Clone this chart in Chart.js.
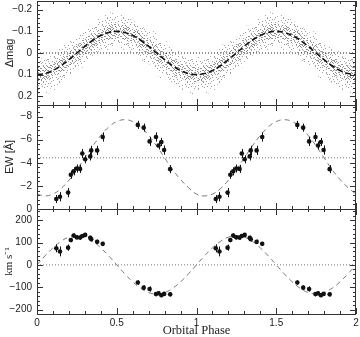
<!DOCTYPE html>
<html lang="en">
<head>
<meta charset="UTF-8">
<title>Orbital Phase</title>
<script src="https://cdn.jsdelivr.net/npm/chart.js"></script>
<style>
  html, body { margin: 0; padding: 0; background: #fff; }
  #wrap { position: relative; width: 360px; height: 337px; }
  #wrap canvas { position: absolute; left: 0; top: 0; }
</style>
</head>
<body>
<div id="wrap">
  <canvas id="c1" width="360" height="337"></canvas>
  <canvas id="c2" width="360" height="337"></canvas>
  <canvas id="c3" width="360" height="337"></canvas>
</div>
<script>
// x axis
const phaseTicks = [0, 0.5, 1, 1.5, 2];
const phaseTickLabels = ['0', '0.5', '1', '1.5', '2'];

// light curve: model read at 0.05 steps over one cycle
const modelPhase = [0, 0.05, 0.1, 0.15, 0.2, 0.25, 0.3, 0.35, 0.4, 0.45, 0.5,
                    0.55, 0.6, 0.65, 0.7, 0.75, 0.8, 0.85, 0.9, 0.95, 1.0];
const magModel = [0.100, 0.095, 0.081, 0.059, 0.031, 0.000, -0.031, -0.059, -0.081, -0.095, -0.100,
                  -0.095, -0.081, -0.059, -0.031, 0.000, 0.031, 0.059, 0.081, 0.095, 0.100];
// photometric cloud envelopes, read at 0.1 steps
const cloudPhase = [0, 0.1, 0.2, 0.3, 0.4, 0.5, 0.6, 0.7, 0.8, 0.9, 1.0];
const cloudFarTop = [0.01, -0.01, -0.06, -0.12, -0.17, -0.19, -0.17, -0.12, -0.06, -0.01, 0.01];
const cloudFarBottom = [0.19, 0.18, 0.12, 0.06, 0.01, -0.02, 0.01, 0.07, 0.13, 0.18, 0.19];
const cloudOuterTop = [0.03, 0.01, -0.04, -0.10, -0.15, -0.17, -0.15, -0.10, -0.04, 0.01, 0.03];
const cloudOuterBottom = [0.17, 0.16, 0.10, 0.04, -0.01, -0.04, -0.01, 0.05, 0.11, 0.16, 0.17];
const cloudInnerTop = [0.065, 0.045, -0.005, -0.065, -0.115, -0.135, -0.115, -0.065, -0.005, 0.045, 0.065];
const cloudInnerBottom = [0.135, 0.115, 0.065, 0.005, -0.045, -0.065, -0.045, 0.005, 0.065, 0.115, 0.135];
const magTicks = [-0.2, -0.1, 0, 0.1, 0.2];
const magTickLabels = ['\u22120.2', '\u22120.1', '0', '0.1', '0.2'];

// spectroscopy
const specPhase = [0.121, 0.144, 0.195, 0.212, 0.230, 0.249, 0.270, 0.284, 0.302, 0.334, 0.340,
                   0.377, 0.412, 0.632, 0.669, 0.706, 0.746, 0.762, 0.780, 0.797, 0.835];
const ewValues = [-0.86, -1.06, -1.42, -2.96, -3.26, -3.50, -3.47, -4.80, -4.30, -4.55, -5.07,
                  -5.07, -6.23, -7.28, -7.04, -5.85, -6.23, -5.50, -5.80, -5.10, -3.45];
const ewErrors = [0.35, 0.4, 0.4, 0.35, 0.35, 0.35, 0.35, 0.4, 0.35, 0.35, 0.4,
                  0.4, 0.4, 0.35, 0.35, 0.4, 0.4, 0.35, 0.35, 0.4, 0.35];
const ewModel = [-1.29, -1.13, -1.29, -1.76, -2.49, -3.41, -4.43, -5.45, -6.37, -7.10, -7.57,
                 -7.73, -7.57, -7.10, -6.37, -5.45, -4.43, -3.41, -2.55, -1.85, -1.29];
const ewMean = -4.43;
const ewTicks = [-8, -6, -4, -2, 0];
const ewTickLabels = ['\u22128', '\u22126', '\u22124', '\u22122', '0'];

const rvValues = [74, 60, 77, 111, 131, 123, 122, 129, 134, 121, 115,
                  103, 94, -79, -102, -108, -131, -127, -136, -130, -132];
const rvErrors = [18, 22, 14, 10, 10, 9, 9, 9, 9, 10, 10,
                  10, 9, 10, 10, 12, 9, 9, 9, 9, 9];
const rvModel = [0, 40, 76, 105, 124, 130, 124, 105, 76, 40, 0,
                 -40, -76, -105, -124, -130, -124, -105, -76, -40, 0];
const rvMean = 0;
const rvTicks = [200, 100, 0, -100, -200];
const rvTickLabels = ['200', '100', '0', '\u2212100', '\u2212200'];

// two cycles are plotted
function twoCycles(xs, ys) {
  const pts = [];
  [0, 1].forEach(c => xs.forEach((p, i) => {
    if (c === 1 && i === 0 && p === 0) return;
    pts.push({x: p + c, y: ys[i]});
  }));
  return pts;
}
function flatLine(v) { return [{x: 0, y: v}, {x: 2, y: v}]; }

function dotPattern(dots, color) {
  const c = document.createElement('canvas');
  c.width = 16; c.height = 16;
  const g = c.getContext('2d');
  g.fillStyle = color;
  dots.forEach(d => g.fillRect(d[0], d[1], 1, 1));
  return g.createPattern(c, 'repeat');
}
const faint = dotPattern([[2,3],[11,1],[6,9],[14,12],[9,15],[0,13]], '#a8a8a8');
const sparse = dotPattern([[0,3],[5,0],[9,4],[14,1],[2,8],[7,10],[12,7],[15,11],[4,13],[10,14],
                           [6,5],[13,15],[1,15],[11,2],[3,1],[8,13],[13,4],[0,11],[6,8],[10,6],
                           [15,6],[3,6],[9,10],[12,12]], '#9c9c9c');
const dense = dotPattern([[2,1],[7,2],[12,3],[3,4],[8,7],[14,5],[0,6],[5,7],[10,9],[15,8],[3,10],
                          [8,12],[13,12],[1,12],[6,14],[11,11],[15,14],[4,2],[9,0],[13,9],[0,9],
                          [6,3],[11,6],[2,14],[9,15],[14,13],[1,3],[5,5],[10,1],[14,10],[7,15],
                          [4,11],[12,14],[0,13],[8,4],[15,2],[3,8],[11,13],[6,0],[13,6]], '#8a8a8a');

const sans = 'Liberation Sans';
const serif = 'Liberation Serif';

function frame(yMinor, yMajor) {
  return {
    id: 'frame',
    afterDraw(chart) {
      const {ctx, chartArea: a, scales: {x, y}} = chart;
      ctx.save();
      ctx.strokeStyle = '#333';
      ctx.lineWidth = 1;
      ctx.strokeRect(a.left + 0.5, a.top + 0.5, a.right - a.left - 1, a.bottom - a.top);
      ctx.beginPath();
      for (let k = 0; k <= 20; k++) {
        const len = k % 5 === 0 ? 6 : 3;
        const px = Math.round(x.getPixelForValue(k * 0.1)) + 0.5;
        ctx.moveTo(px, a.top); ctx.lineTo(px, a.top + len);
        ctx.moveTo(px, a.bottom); ctx.lineTo(px, a.bottom - len);
      }
      const lo = Math.min(y.min, y.max), hi = Math.max(y.min, y.max);
      for (let k = Math.ceil(lo / yMinor - 1e-9); k * yMinor <= hi + 1e-9; k++) {
        const v = k * yMinor;
        const r = v / yMajor;
        const len = Math.abs(r - Math.round(r)) < 1e-6 ? 6 : 3;
        const py = Math.round(y.getPixelForValue(v)) + 0.5;
        ctx.moveTo(a.left, py); ctx.lineTo(a.left + len, py);
        ctx.moveTo(a.right, py); ctx.lineTo(a.right - len, py);
      }
      ctx.stroke();
      ctx.restore();
    }
  };
}

function errorBars(xs, ys, errs) {
  return {
    id: 'errorBars',
    afterDatasetsDraw(chart) {
      const {ctx, scales: {x, y}} = chart;
      ctx.save();
      ctx.strokeStyle = '#111';
      ctx.lineWidth = 1;
      ctx.beginPath();
      [0, 1].forEach(c => xs.forEach((p, i) => {
        const px = Math.round(x.getPixelForValue(p + c)) + 0.5;
        ctx.moveTo(px, y.getPixelForValue(ys[i] - errs[i]));
        ctx.lineTo(px, y.getPixelForValue(ys[i] + errs[i]));
      }));
      ctx.stroke();
      ctx.restore();
    }
  };
}

function yAxis(min, max, reverse, ticks, labels, title, family) {
  return {
    min: min, max: max, reverse: reverse,
    afterBuildTicks: s => { s.ticks = ticks.map(v => ({value: v})); },
    afterFit: s => { s.width = 37; s.paddingTop = 0; s.paddingBottom = 0; },
    grid: {display: false, drawTicks: false},
    border: {display: false},
    ticks: {padding: 5, color: '#222', font: {family: sans, size: 10},
            callback: (v, i) => labels[i]},
    title: {display: true, text: title, color: '#222', padding: {top: 3, bottom: 0},
            font: {family: family, size: 11}}
  };
}

const hiddenX = {type: 'linear', min: 0, max: 2, display: false};

function baseOptions(pad, xScale, yScale) {
  return {
    responsive: false,
    animation: false,
    devicePixelRatio: 1,
    layout: {padding: pad},
    plugins: {legend: {display: false}, tooltip: {enabled: false}},
    elements: {point: {radius: 0}},
    scales: {x: xScale, y: yScale}
  };
}

function band(top, bottom, pattern) {
  return [
    {data: twoCycles(cloudPhase, top), borderWidth: 0, tension: 0.4, fill: '+1', backgroundColor: pattern},
    {data: twoCycles(cloudPhase, bottom), borderWidth: 0, tension: 0.4, fill: false}
  ];
}

// panel 1: light curve
new Chart(document.getElementById('c1'), {
  type: 'line',
  data: {datasets: [
    {data: twoCycles(modelPhase, magModel), borderColor: '#111', borderWidth: 1.6,
     borderDash: [6, 3], tension: 0.4, fill: false},
    {data: flatLine(0), borderColor: '#222', borderWidth: 1, borderDash: [1, 2], fill: false}
  ].concat(band(cloudInnerTop, cloudInnerBottom, dense),
           band(cloudOuterTop, cloudOuterBottom, sparse),
           band(cloudFarTop, cloudFarBottom, faint))},
  options: baseOptions({left: 0, right: 4, top: 1, bottom: 232}, hiddenX,
    yAxis(-0.24, 0.24, true, magTicks, magTickLabels, '\u0394mag', sans)),
  plugins: [frame(0.02, 0.1)]
});

// panel 2: equivalent width
new Chart(document.getElementById('c2'), {
  type: 'line',
  data: {datasets: [
    {data: twoCycles(specPhase, ewValues), showLine: false, pointRadius: 2.3,
     pointBackgroundColor: '#111', pointBorderWidth: 0},
    {data: twoCycles(modelPhase, ewModel), borderColor: '#777', borderWidth: 1,
     borderDash: [5, 4], tension: 0.4, fill: false},
    {data: flatLine(ewMean), borderColor: '#777', borderWidth: 1, borderDash: [1, 2], fill: false}
  ]},
  options: baseOptions({left: 0, right: 4, top: 105, bottom: 128}, hiddenX,
    yAxis(-9, 0, true, ewTicks, ewTickLabels, 'EW [\u00c5]', sans)),
  plugins: [frame(0.4, 2), errorBars(specPhase, ewValues, ewErrors)]
});

// panel 3: radial velocity
new Chart(document.getElementById('c3'), {
  type: 'line',
  data: {datasets: [
    {data: twoCycles(specPhase, rvValues), showLine: false, pointRadius: 2.3,
     pointBackgroundColor: '#111', pointBorderWidth: 0},
    {data: twoCycles(modelPhase, rvModel), borderColor: '#777', borderWidth: 1,
     borderDash: [5, 4], tension: 0.4, fill: false},
    {data: flatLine(rvMean), borderColor: '#777', borderWidth: 1, borderDash: [1, 2], fill: false}
  ]},
  options: baseOptions({left: 0, right: 4, top: 209, bottom: 0}, {
      type: 'linear', min: 0, max: 2,
      afterBuildTicks: s => { s.ticks = phaseTicks.map(v => ({value: v})); },
      afterFit: s => { s.height = 23; s.paddingLeft = 0; s.paddingRight = 0; },
      grid: {display: false, drawTicks: false},
      border: {display: false},
      ticks: {padding: 3, maxRotation: 0, color: '#222', font: {family: sans, size: 10},
              callback: (v, i) => phaseTickLabels[i]},
      title: {display: true, text: 'Orbital Phase', color: '#222', padding: {top: 0, bottom: -1},
              font: {family: serif, size: 12.5}}
    },
    yAxis(-220, 250, false, rvTicks, rvTickLabels, 'km s\u207b\u00b9', serif)),
  plugins: [frame(20, 100), errorBars(specPhase, rvValues, rvErrors)]
});
</script>
</body>
</html>
